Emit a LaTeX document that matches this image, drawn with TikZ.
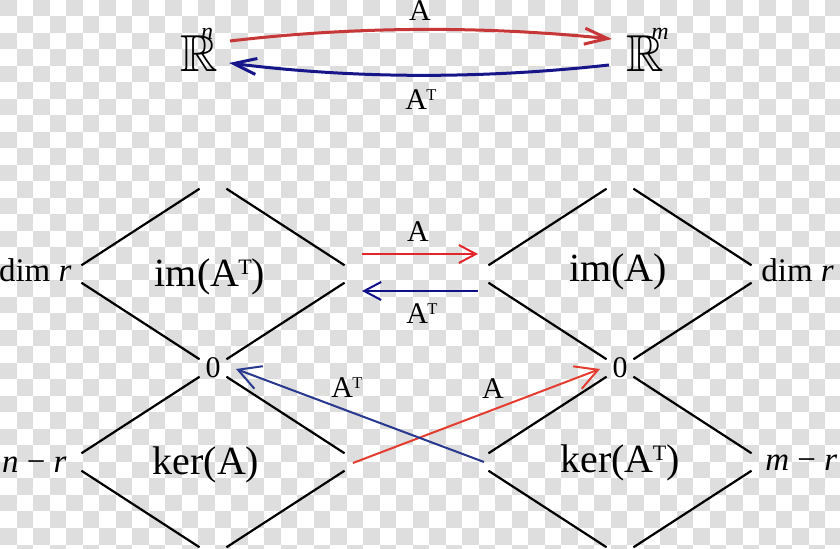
\documentclass[tikz,border=0pt]{standalone}
\usepackage{amssymb}
\usepackage{graphicx}
\usepackage{fontspec}
\setmainfont{Liberation Serif}
\usetikzlibrary{arrows.meta,calc}
\definecolor{checkgray}{HTML}{DEDEDE}
\definecolor{topred}{HTML}{C83737}
\definecolor{topblue}{HTML}{16168A}
\definecolor{midred}{HTML}{E3262A}
\definecolor{midblue}{HTML}{10108A}
\definecolor{crossred}{HTML}{E43D30}
\definecolor{crossblue}{HTML}{2A3990}
\newcommand{\transA}{A\kern-0.02em\raisebox{0.3em}{\scalebox{0.55}{T}}}

\begin{document}
\begin{tikzpicture}[x=0.5pt,y=-0.5pt,
  edge/.style={line width=1.1pt,shorten <=8pt,shorten >=8pt},
  toparrow/.style={line width=1.5pt,-{Straight Barb[length=11.5pt,width=8pt]}},
  midarrow/.style={line width=1pt,-{Straight Barb[length=8.5pt,width=9pt]}},
  crossarrow/.style={line width=1pt,-{Straight Barb[length=11pt,width=12pt]}},
  lbl/.style={inner sep=0pt,anchor=base},
  maplabel/.style={lbl,font=\fontsize{15}{17}\selectfont},
  spacetext/.style={lbl,font=\fontsize{20}{24}\selectfont},
  dimtext/.style={lbl,font=\fontsize{16.5}{20}\selectfont}]
  \useasboundingbox (0,0) rectangle (840,549);
  \clip (0,0) rectangle (840,549);
  \foreach \i in {0,...,50}
    \foreach \j in {0,...,33} {
      \pgfmathtruncatemacro\parity{mod(\i+\j,2)}
      \ifnum\parity=0 \fill[checkgray] (16.5*\i,16.5*\j) rectangle ++(16.5,16.5); \fi
    }

  % the two spaces
  \node[lbl,font=\fontsize{26}{26}\selectfont] (Rn) at (199,72) {$\mathbb{R}$};
  \node[lbl,font=\fontsize{12}{12}\selectfont\itshape] (Rnexp) at (207,40) {n};
  \node[lbl,font=\fontsize{26}{26}\selectfont] (Rm) at (645,72) {$\mathbb{R}$};
  \node[lbl,font=\fontsize{12}{12}\selectfont\itshape] (Rmexp) at (660,40) {m};
  \draw[toparrow,topred] ([shift={(31,-31)}]Rn.base) .. controls +(127,-15) and +(-127,-13) .. ([shift={(-33,-33)}]Rm.base);
  \draw[toparrow,topblue] ([shift={(-36,-7)}]Rm.base) .. controls +(-127,14) and +(127,16) .. ([shift={(30,-9)}]Rn.base);
  \node[maplabel] (topA) at (420,21) {A};
  \node[maplabel] (topAT) at (421,110) {\transA};

  % diamonds
  \coordinate (LUt) at (213,180);
  \coordinate (LUl) at (68,274);
  \coordinate (LUr) at (358,274);
  \coordinate (LLl) at (68,462);
  \coordinate (LLb) at (213,556);
  \coordinate (LLr) at (358,462);
  \coordinate (RUt) at (620,180);
  \coordinate (RUl) at (475,274);
  \coordinate (RUr) at (765,274);
  \coordinate (RLl) at (475,462);
  \coordinate (RLb) at (620,556);
  \coordinate (RLr) at (765,462);
  \node[inner sep=0pt,font=\fontsize{15}{17}\selectfont] (L0) at (213,368) {0};
  \node[inner sep=0pt,font=\fontsize{15}{17}\selectfont] (R0) at (620,368) {0};
  \foreach \a/\b in {LUl/LUt,LUt/LUr,LUr/L0.center,L0.center/LUl,
                     L0.center/LLr,LLr/LLb,LLb/LLl,LLl/L0.center,
                     RUl/RUt,RUt/RUr,RUr/R0.center,R0.center/RUl,
                     R0.center/RLr,RLr/RLb,RLb/RLl,RLl/R0.center}
    \draw[edge] (\a) -- (\b);

  \node[spacetext] (imAT) at (210,287) {im(\transA)};
  \node[spacetext] (imA) at (618,282) {im(A)};
  \node[spacetext] (kerA) at (206,475) {ker(A)};
  \node[spacetext] (kerAT) at (620,473) {ker(\transA)};
  \node[dimtext,anchor=base east] (dimL) at (72,282) {dim \textit{r}};
  \node[dimtext,anchor=base west] (dimR) at (761,282) {dim \textit{r}};
  \node[dimtext,anchor=base east] (codimL) at (67,473) {\textit{n} − \textit{r}};
  \node[dimtext,anchor=base west] (codimR) at (765,471) {\textit{m} − \textit{r}};

  % maps between the subspaces
  \draw[midarrow,midred] ([shift={(4,-20)}]LUr) -- ([shift={(3,-20)}]RUl);
  \draw[midarrow,midblue] ([shift={(3,17)}]RUl) -- ([shift={(4,17)}]LUr);
  \node[maplabel] (midA) at (418,242) {A};
  \node[maplabel] (midAT) at (422,324) {\transA};
  \draw[crossarrow,crossred] ([shift={(-5,1)}]LLr) -- ([shift={(-20,1)}]R0.center);
  \draw[crossarrow,crossblue] ([shift={(9,0)}]RLl) -- ([shift={(23,1)}]L0.center);
  \node[maplabel] (crossAT) at (347,398) {\transA};
  \node[maplabel] (crossA) at (493,399) {A};
\end{tikzpicture}
\end{document}
